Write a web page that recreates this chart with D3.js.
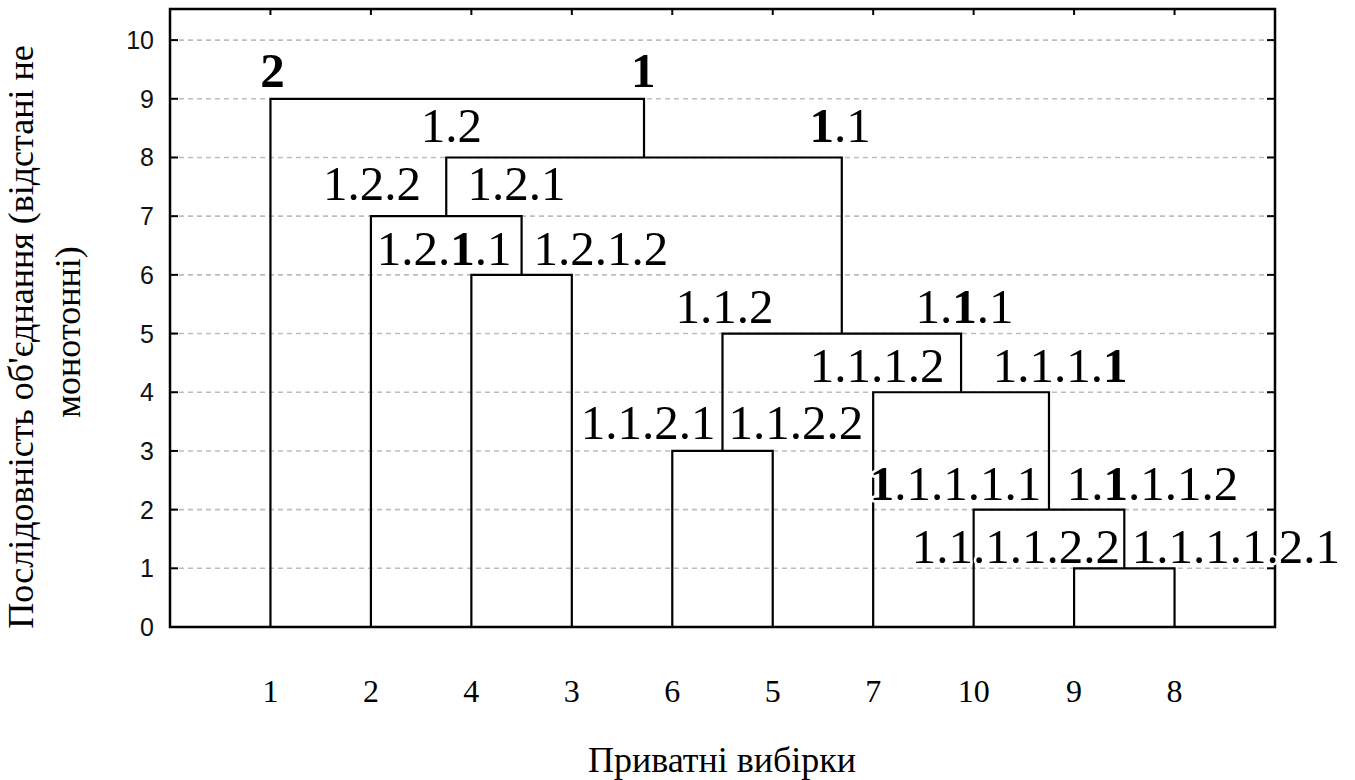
<!DOCTYPE html>
<html>
<head>
<meta charset="utf-8">
<script src="https://cdn.jsdelivr.net/npm/d3@7"></script>
<style>
  body { margin: 0; background: #fff; }
  svg { display: block; }
  .serif { font-family: "Liberation Serif", "Times New Roman", serif; fill: #000; }
  .ytick { font-family: "Liberation Sans", Arial, sans-serif; font-size: 25px; fill: #111; }
  .grid line { stroke: #bdbdbd; stroke-width: 1.6; stroke-dasharray: 5,4; }
  .link { fill: none; stroke: #000; stroke-width: 2.2; }
  .clabel { font-size: 49px; paint-order: stroke; stroke: #fff; stroke-width: 5px; stroke-linejoin: round; }
</style>
</head>
<body>
<script>
// leaves in dendrogram order (left to right)
var leaves = ["1", "2", "4", "3", "6", "5", "7", "10", "9", "8"];

// joins: [child a, child b, step]; ids 0-9 are leaves, join k becomes node 10+k
var joins = [
    [8, 9, 1],
    [7, 10, 2],
    [4, 5, 3],
    [6, 11, 4],
    [12, 13, 5],
    [2, 3, 6],
    [1, 15, 7],
    [16, 14, 8],
    [0, 17, 9]
];

var yTicks = [0, 1, 2, 3, 4, 5, 6, 7, 8, 9, 10];

// cluster codes: [text, position along leaves, step]; [x] = bold character
var clusterLabels = [
    ["[2]", 0.02, 9.2],
    ["[1]", 3.71, 9.2],
    ["1.2", 1.80, 8.26],
    ["[1].1", 5.67, 8.26],
    ["1.2.2", 1.01, 7.27],
    ["1.2.1", 2.45, 7.27],
    ["1.2.[1].1", 1.73, 6.17],
    ["1.2.1.2", 3.29, 6.17],
    ["1.1.2", 4.52, 5.18],
    ["1.[1].1", 6.91, 5.18],
    ["1.1.1.2", 6.04, 4.17],
    ["1.1.1.[1]", 7.86, 4.17],
    ["1.1.2.1", 3.76, 3.2],
    ["1.1.2.2", 5.23, 3.2],
    ["[1].1.1.1.1", 6.82, 2.16],
    ["1.[1].1.1.2", 8.78, 2.16],
    ["1.1.1.1.2.2", 7.42, 1.09],
    ["1.1.1.1.2.1", 9.61, 1.09]
];

var xTitle = "Приватні вибірки";
var yTitle = ["Послідовність об'єднання (відстані не", "монотонні)"];

var width = 1355, height = 780;
var plot = {left: 170, right: 1275, top: 9, bottom: 627};

var x = d3.scaleLinear()
    .domain([-1, leaves.length])
    .range([plot.left, plot.right]);
var y = d3.scaleLinear()
    .domain([0, 10.53])
    .range([plot.bottom, plot.top]);

var svg = d3.select("body")
    .append("svg")
        .attr("width", width)
        .attr("height", height);

// gridlines
svg.append("g")
    .attr("class", "grid")
    .selectAll("line")
    .data(yTicks.slice(1))
  .enter().append("line")
    .attr("x1", plot.left)
    .attr("x2", plot.right)
    .attr("y1", function(d) { return y(d); })
    .attr("y2", function(d) { return y(d); });

// node positions
var nodes = leaves.map(function(d, i) { return {pos: i, h: 0}; });
joins.forEach(function(j) {
    nodes.push({pos: (nodes[j[0]].pos + nodes[j[1]].pos) / 2, h: j[2]});
});

svg.append("g")
    .selectAll("path")
    .data(joins)
  .enter().append("path")
    .attr("class", "link")
    .attr("d", function(j) {
        var a = nodes[j[0]], b = nodes[j[1]];
        return "M" + x(a.pos) + "," + y(a.h) +
            "V" + y(j[2]) + "H" + x(b.pos) + "V" + y(b.h);
    });

// frame and ticks
var axisG = svg.append("g");
axisG.append("rect")
    .attr("x", plot.left)
    .attr("y", plot.top)
    .attr("width", plot.right - plot.left)
    .attr("height", plot.bottom - plot.top)
    .attr("fill", "none")
    .attr("stroke", "#000")
    .attr("stroke-width", 2.5);

axisG.selectAll(".tl")
    .data(yTicks)
  .enter().append("line")
    .attr("x1", plot.left).attr("x2", plot.left + 8)
    .attr("y1", function(d) { return y(d); })
    .attr("y2", function(d) { return y(d); })
    .attr("stroke", "#000").attr("stroke-width", 2);
axisG.selectAll(".tr")
    .data(yTicks)
  .enter().append("line")
    .attr("x1", plot.right).attr("x2", plot.right - 8)
    .attr("y1", function(d) { return y(d); })
    .attr("y2", function(d) { return y(d); })
    .attr("stroke", "#000").attr("stroke-width", 2);
axisG.selectAll(".tt")
    .data(leaves)
  .enter().append("line")
    .attr("x1", function(d, i) { return x(i); })
    .attr("x2", function(d, i) { return x(i); })
    .attr("y1", plot.top).attr("y2", plot.top + 6)
    .attr("stroke", "#000").attr("stroke-width", 2);

axisG.selectAll(".ytick")
    .data(yTicks)
  .enter().append("text")
    .attr("class", "ytick")
    .attr("x", plot.left - 16)
    .attr("y", function(d) { return y(d); })
    .attr("dy", "0.36em")
    .attr("text-anchor", "end")
    .text(function(d) { return d; });

// leaf labels
svg.selectAll(".leaf")
    .data(leaves)
  .enter().append("text")
    .attr("class", "serif")
    .attr("x", function(d, i) { return x(i); })
    .attr("y", 702)
    .attr("text-anchor", "middle")
    .style("font-size", "32px")
    .text(function(d) { return d; });

// cluster codes
var cl = svg.selectAll(".clabel")
    .data(clusterLabels)
  .enter().append("text")
    .attr("class", "serif clabel")
    .attr("x", function(d) { return x(d[1]); })
    .attr("y", function(d) { return y(d[2]); })
    .attr("text-anchor", "middle");

cl.each(function(d) {
    var t = d3.select(this);
    d[0].split(/(\[[^\]]+\])/).forEach(function(part) {
        if (!part) return;
        var bold = part.charAt(0) === "[";
        t.append("tspan")
            .attr("font-weight", bold ? "bold" : null)
            .text(bold ? part.slice(1, -1) : part);
    });
});

// titles
svg.append("text")
    .attr("class", "serif")
    .attr("x", 722)
    .attr("y", 772)
    .attr("text-anchor", "middle")
    .style("font-size", "36px")
    .text(xTitle);

svg.selectAll(".ytitle")
    .data(yTitle)
  .enter().append("text")
    .attr("class", "serif")
    .attr("transform", function(d, i) {
        return "translate(" + (33 + i * 47) + "," + (i ? 332 : 337) + ") rotate(-90)";
    })
    .attr("text-anchor", "middle")
    .style("font-size", "36px")
    .text(function(d) { return d; });
</script>
</body>
</html>
